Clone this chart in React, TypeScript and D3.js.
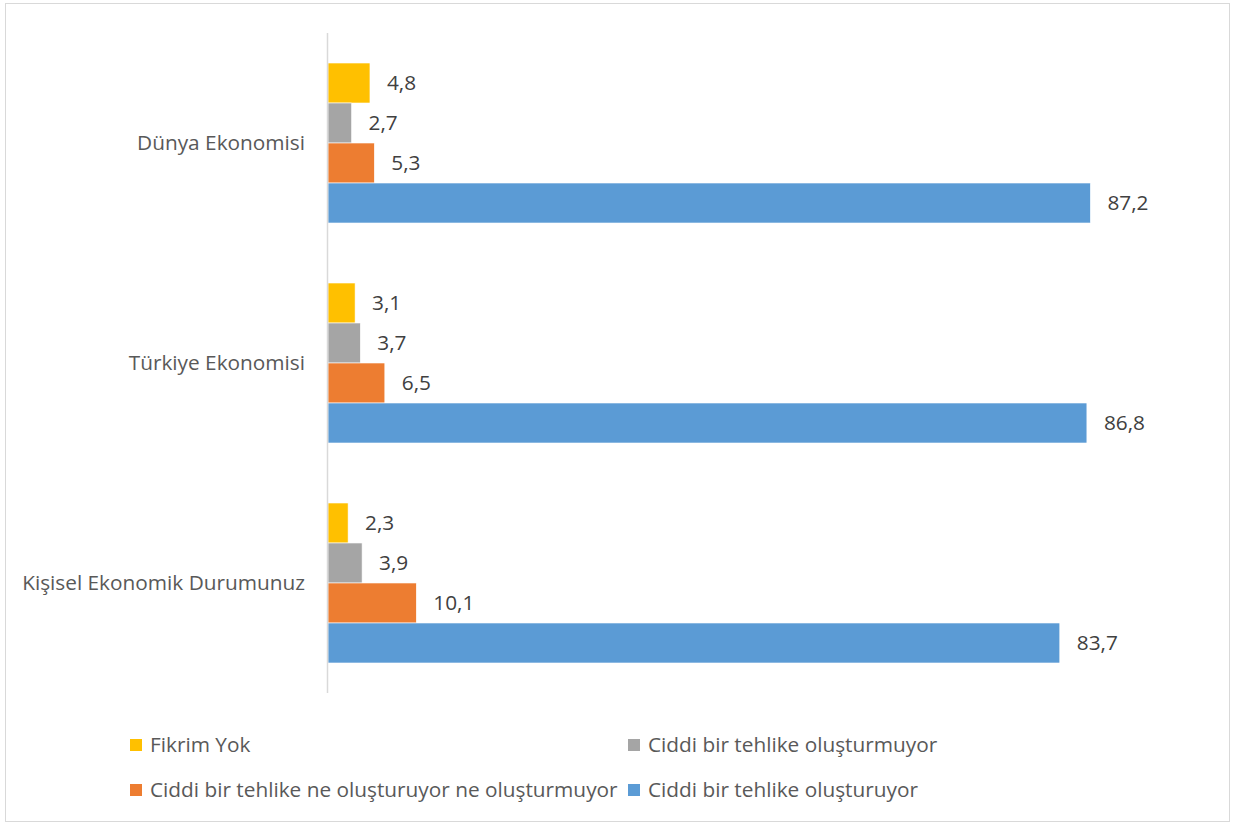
import React from "react";
import * as d3 from "d3";

const categories = ["Dünya Ekonomisi", "Türkiye Ekonomisi", "Kişisel Ekonomik Durumunuz"];
const seriesNames = [
  "Fikrim Yok",
  "Ciddi bir tehlike oluşturmuyor",
  "Ciddi bir tehlike ne oluşturuyor ne oluşturmuyor",
  "Ciddi bir tehlike oluşturuyor",
];
const seriesColors = ["#FFC000", "#A5A5A5", "#ED7D31", "#5B9BD5"];
const fikrimYok = [4.8, 3.1, 2.3];
const oluşturmuyor = [2.7, 3.7, 3.9];
const neNe = [5.3, 6.5, 10.1];
const oluşturuyor = [87.2, 86.8, 83.7];
const seriesValues = [fikrimYok, oluşturmuyor, neNe, oluşturuyor];

const W = 1234;
const H = 826;
const FONT = "'Open Sans', sans-serif";
const TEXT = "#595959";
const FS = 20.8;

export default function App() {
  const plotLeft = 328;
  const plotTop = 33;
  const plotBottom = 693;
  const x = d3.scaleLinear().domain([0, 100]).range([plotLeft, plotLeft + 874.3]);
  const y = d3.scaleBand<string>().domain(categories).range([plotTop, plotBottom]).paddingInner(0.2727).paddingOuter(0.1364);
  const inner = d3.scaleBand<number>().domain([0, 1, 2, 3]).range([0, y.bandwidth()]);
  const fmt = (v: number) => v.toFixed(1).replace(".", ",");

  return (
    <svg width={W} height={H} style={{ position: "absolute", left: 0, top: 0 }} fontFamily={FONT}>
      <rect x={0} y={0} width={W} height={H} fill="#fff" />
      <rect x={5.5} y={3.5} width={1224} height={818} fill="none" stroke="#D9D9D9" strokeWidth={1} />
      {categories.map((c, ci) => (
        <g key={c}>
          {seriesValues.map((vals, si) => {
            const y0 = (y(c) ?? 0) + (inner(si) ?? 0);
            const h = inner.bandwidth();
            return (
              <g key={si}>
                <rect x={x(0)} y={y0} width={x(vals[ci]) - x(0)} height={h} fill={seriesColors[si]} stroke="#fff" strokeWidth={0.6} />
                <text x={x(vals[ci]) + 17} y={y0 + h / 2} dy="0.35em" fontSize={FS} fill="#404040">
                  {fmt(vals[ci])}
                </text>
              </g>
            );
          })}
          <text x={305} y={(y(c) ?? 0) + y.bandwidth() / 2} dy="0.35em" textAnchor="end" fontSize={FS} fill={TEXT}>
            {c}
          </text>
        </g>
      ))}
      <line x1={327.5} x2={327.5} y1={plotTop} y2={plotBottom} stroke="#D9D9D9" strokeWidth={1.5} />
      {seriesNames.map((n, i) => {
        const lx = i % 2 === 0 ? 130 : 628;
        const ly = i < 2 ? 745 : 790;
        return (
          <g key={n}>
            <rect x={lx} y={ly - 6} width={12} height={12} fill={seriesColors[i]} />
            <text x={lx + 20} y={ly} dy="0.35em" fontSize={FS} fill={TEXT}>
              {n}
            </text>
          </g>
        );
      })}
    </svg>
  );
}
